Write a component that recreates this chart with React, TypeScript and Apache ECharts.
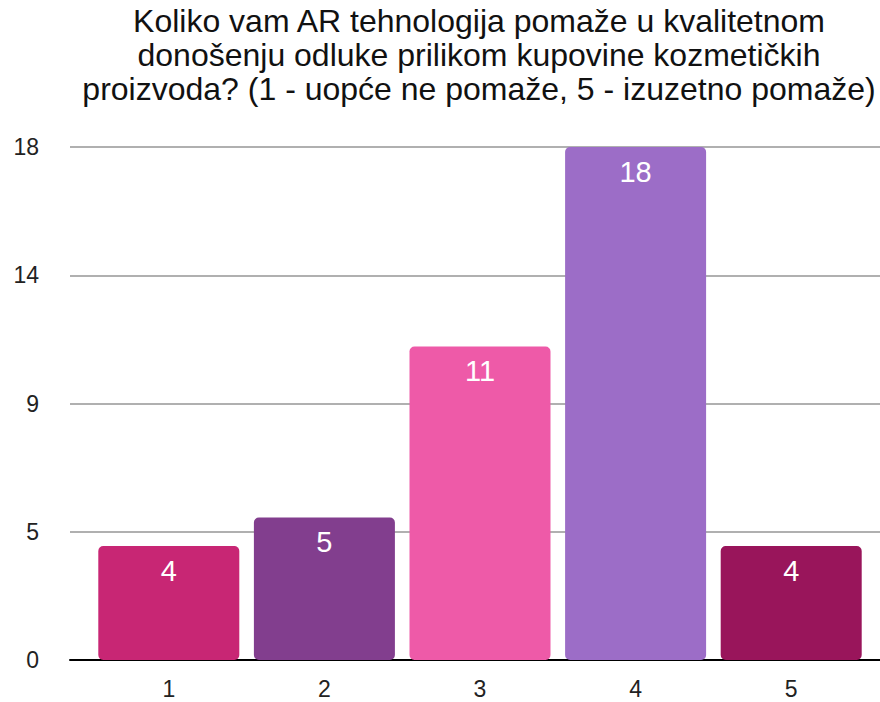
import React, { useEffect, useRef } from "react";
import * as echarts from "echarts";

const titleText =
  "Koliko vam AR tehnologija pomaže u kvalitetnom\ndonošenju odluke prilikom kupovine kozmetičkih\nproizvoda? (1 - uopće ne pomaže, 5 - izuzetno pomaže)";
const categories = ["1", "2", "3", "4", "5"];
const values = [4, 5, 11, 18, 4];
const barColors = ["#C82674", "#823E8E", "#EE5AA8", "#9C6DC7", "#99155B"];
const yTickLabels = ["0", "5", "9", "14", "18"];

export default function App() {
  const ref = useRef<HTMLDivElement>(null);
  useEffect(() => {
    const chart = echarts.init(ref.current!, undefined, { renderer: "svg" });
    const font = "'Liberation Sans', Arial, Helvetica, sans-serif";
    chart.setOption({
      animation: false,
      backgroundColor: "#ffffff",
      textStyle: { fontFamily: font },
      title: {
        text: titleText,
        left: 479,
        top: 4,
        textAlign: "center",
        padding: 0,
        textStyle: {
          fontFamily: font,
          fontSize: 32,
          lineHeight: 34,
          fontWeight: "normal",
          color: "#111111",
        },
      },
      grid: [
        { left: 91, right: 11, top: 147, bottom: 42 },
        { left: 70, right: 0, top: 147, bottom: 42 },
      ],
      xAxis: [
        {
          type: "category",
          gridIndex: 0,
          data: categories,
          axisLine: { show: false },
          axisTick: { show: false },
          axisLabel: { fontSize: 23, color: "#222222", margin: 17, fontFamily: font },
        },
        {
          type: "value",
          gridIndex: 1,
          min: 0,
          max: 1,
          axisLine: { show: true, onZero: false, lineStyle: { color: "#000000", width: 2 } },
          axisTick: { show: false },
          axisLabel: { show: false },
          splitLine: { show: false },
        },
      ],
      yAxis: [
        {
          type: "value",
          gridIndex: 0,
          min: 0,
          max: 18,
          interval: 4.5,
          axisLine: { show: false },
          axisTick: { show: false },
          axisLabel: { show: false },
          splitLine: { show: false },
        },
        {
          type: "value",
          gridIndex: 1,
          min: 0,
          max: 18,
          interval: 4.5,
          axisLine: { show: false },
          axisTick: { show: false },
          axisLabel: {
            align: "right",
            margin: 31,
            fontSize: 23,
            color: "#222222",
            fontFamily: font,
            formatter: (_v: number, i: number) => yTickLabels[i],
          },
          splitLine: { show: true, lineStyle: { color: "#b0b0b0", width: 2 } },
        },
      ],
      series: [
        {
          type: "bar",
          xAxisIndex: 0,
          yAxisIndex: 0,
          barWidth: 141,
          z: 3,
          data: values.map((v, i) => ({
            value: v,
            itemStyle: { color: barColors[i], borderRadius: 5 },
          })),
          label: {
            show: true,
            position: "insideTop",
            distance: 10,
            fontSize: 29,
            color: "#ffffff",
            fontFamily: font,
          },
        },
      ],
    });
    return () => chart.dispose();
  }, []);
  return <div ref={ref} style={{ width: 880, height: 702, position: "absolute", left: 0, top: 0 }} />;
}
